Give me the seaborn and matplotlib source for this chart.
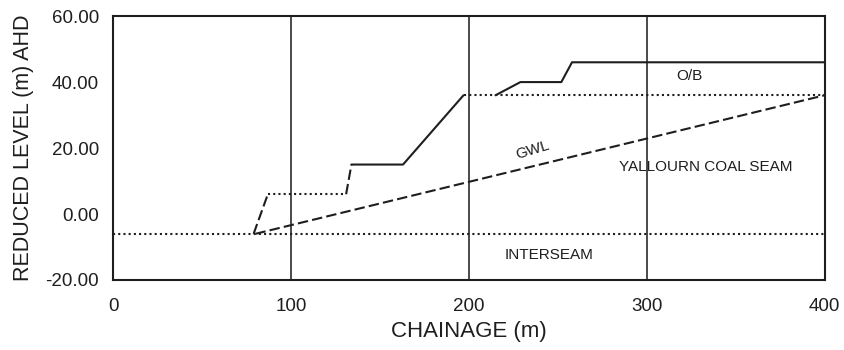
import pandas as pd
import numpy as np
import matplotlib
matplotlib.use("Agg")
import matplotlib.pyplot as plt
import seaborn as sns

# section data (chainage m, reduced level m AHD)
interseam_x = [0, 400]
interseam_y = [-6, -6]

gwl_x = [80, 400]
gwl_y = [-6, 36]

# excavation / ground profile pieces
batter1_x = [79, 87]
batter1_y = [-6, 6]
bench1_x = [87, 131]
bench1_y = [6, 6]
batter2_x = [131, 134]
batter2_y = [6, 15]
slope_x = [134, 163, 197]
slope_y = [15, 15, 36]
coal_top_x = [197, 400]
coal_top_y = [36, 36]
surface_x = [215, 229, 252, 258, 400]
surface_y = [36, 40, 40, 46, 46]

x_ticks = [0, 100, 200, 300, 400]
y_ticks = [-20, 0, 20, 40, 60]

sns.set_style("white")
plt.rcParams['font.family'] = ['Liberation Sans', 'DejaVu Sans']

fig, ax = plt.subplots(figsize=(8.44, 3.5), dpi=100)
fig.subplots_adjust(left=0.134, right=0.977, top=0.954, bottom=0.2)

ink = "#1e1e1e"
pieces = [
    (interseam_x, interseam_y, (0, (1, 1.5))),
    (gwl_x, gwl_y, (0, (5, 2))),
    (batter1_x, batter1_y, (0, (5, 2))),
    (bench1_x, bench1_y, (0, (1, 1.5))),
    (batter2_x, batter2_y, (0, (5, 2))),
    (slope_x, slope_y, "-"),
    (coal_top_x, coal_top_y, (0, (1, 1.5))),
    (surface_x, surface_y, "-"),
]
for xs, ys, ls in pieces:
    seg = pd.DataFrame({"x": xs, "y": ys})
    sns.lineplot(data=seg, x="x", y="y", sort=False, estimator=None,
                 color=ink, linewidth=1.5, linestyle=ls, ax=ax)

# vertical grid lines
for xv in x_ticks[1:-1]:
    ax.axvline(xv, color="#4a4a4a", linewidth=1.4, zorder=0)

ax.set_xlim(0, 400)
ax.set_ylim(-20, 60)
ax.set_xticks(x_ticks)
ax.set_yticks(y_ticks)
ax.set_yticklabels([f"{v:.2f}" for v in y_ticks])
ax.tick_params(axis="both", direction="in", length=3, width=1, colors=ink,
               labelsize=13.5, labelcolor=ink)
ax.tick_params(axis="x", pad=13)
ax.tick_params(axis="y", pad=10)

for sp in ax.spines.values():
    sp.set_visible(True)
    sp.set_color(ink)
    sp.set_linewidth(1.5)

ax.set_xlabel("CHAINAGE (m)", fontsize=16, color=ink, labelpad=4)
ax.set_ylabel("REDUCED LEVEL (m) AHD", fontsize=15.5, color=ink, labelpad=8)

ax.text(324, 41.8, "O/B", fontsize=11, ha="center", va="center", color=ink)
ax.text(236, 19.5, "GWL", fontsize=11, ha="center", va="center", color=ink,
        rotation=17)
ax.text(333, 14.3, "YALLOURN COAL SEAM", fontsize=11, ha="center",
        va="center", color=ink)
ax.text(245, -12.5, "INTERSEAM", fontsize=11, ha="center", va="center",
        color=ink)

plt.savefig("out.png", dpi=100)
